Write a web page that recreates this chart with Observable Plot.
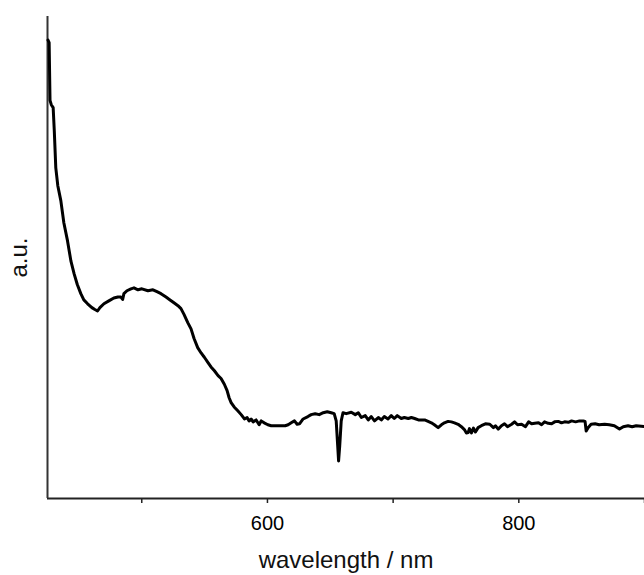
<!DOCTYPE html>
<html>
<head>
<meta charset="utf-8">
<script src="https://cdn.jsdelivr.net/npm/d3@7"></script>
<script src="https://cdn.jsdelivr.net/npm/@observablehq/plot@0.6"></script>
<style>
  html, body { margin: 0; padding: 0; background: #fff; }
  #chart svg { display: block; }
</style>
</head>
<body>
<div id="chart"></div>
<script>
const wavelength = [425.4,426.3,427.0,428.0,429.5,430.4,431.6,433.2,435.6,438.0,440.9,443.6,446.2,448.7,451.5,453.9,456.9,460.3,462.7,464.8,466.7,469.9,473.8,477.8,481.0,483.4,484.8,485.8,488.2,491.4,493.8,497.0,500.1,504.9,508.9,512.1,515.3,519.3,522.5,525.6,528.8,531.2,533.6,536.6,539.2,541.6,544.5,547.2,549.8,552.7,555.1,557.8,560.7,563.1,565.7,567.9,569.5,571.1,573.5,576.4,579.1,581.7,583.8,585.4,587.0,588.6,591.0,593.4,595.0,597.4,600.3,603.0,606.9,610.9,614.1,616.5,618.9,621.5,623.6,625.5,628.4,632.2,634.8,638.0,641.2,644.4,647.6,650.7,653.1,654.7,655.9,656.6,657.5,658.7,660.1,662.7,666.7,669.9,672.3,674.7,677.8,680.2,682.6,685.2,688.2,690.6,693.0,695.9,698.5,700.9,703.3,706.5,708.9,712.1,714.5,717.1,720.1,722.5,725.1,727.8,730.4,732.8,735.8,738.4,740.8,743.7,746.4,748.8,751.7,754.3,756.7,758.3,759.7,760.7,762.3,763.9,765.5,767.6,770.2,773.4,776.9,779.8,781.4,783.6,786.2,788.6,791.0,794.3,796.6,799.0,802.2,805.3,807.8,810.2,812.7,815.7,818.1,820.5,823.4,826.1,828.5,831.4,834.0,836.4,839.4,842.0,845.2,848.3,851.3,852.7,853.6,855.1,857.5,860.7,863.9,868.3,872.0,876.0,880.1,883.1,886.9,890.2,893.4,897.4,900.0];
const absorbance = [95.1,94.6,82.6,81.7,81.1,76.3,68.6,64.9,61.8,57.2,53.5,49.3,46.6,44.4,42.5,41.2,40.4,39.6,39.2,38.9,39.6,40.4,41.0,41.6,41.8,41.8,41.3,42.5,43.1,43.5,43.7,43.3,43.5,43.1,43.3,42.9,42.5,41.8,41.2,40.6,40.0,39.4,38.2,36.5,35.2,33.2,31.3,30.2,29.3,28.2,27.3,26.5,25.5,24.9,23.7,22.4,20.9,19.9,19.0,18.2,17.4,16.5,16.8,16.1,16.5,15.9,16.3,15.3,16.1,15.7,15.3,15.1,15.1,15.1,15.1,15.3,15.7,16.1,15.4,15.5,16.5,17.0,17.4,17.6,17.4,17.8,18.0,17.8,17.6,16.1,10.9,7.8,10.9,16.1,17.8,17.6,17.9,17.4,17.8,16.8,17.2,16.3,17.0,16.1,16.8,16.3,17.0,16.5,17.2,16.6,17.2,16.6,16.8,16.6,16.8,16.6,16.3,16.3,16.3,16.0,15.7,15.3,14.7,15.3,15.7,16.0,15.9,15.7,15.4,14.9,14.3,13.6,13.7,14.5,13.6,14.6,13.8,14.7,15.1,15.5,15.4,14.7,15.1,14.4,15.1,15.5,14.9,15.4,15.9,15.3,15.4,14.9,15.9,15.5,15.6,15.7,15.3,15.9,15.6,15.5,15.9,16.0,15.7,15.9,15.8,16.1,15.9,16.1,16.1,16.0,14.0,14.7,15.4,15.5,15.3,15.4,15.3,15.1,14.4,14.9,15.1,14.9,15.1,15.0,14.9];
const xTicks = [500, 600, 700, 800, 900];
const xTickLabels = ["", "600", "", "800", ""];
const xLabel = "wavelength / nm";
const yLabel = "a.u.";

const data = wavelength.map((w, i) => ({w, a: absorbance[i]}));
const font = "'Liberation Sans', Arial, sans-serif";

const chart = Plot.plot({
  width: 644,
  height: 575,
  marginLeft: 47,
  marginRight: 0,
  marginTop: 16,
  marginBottom: 77,
  style: {fontFamily: font, background: "#fff", color: "#000"},
  x: {domain: [425, 900]},
  y: {domain: [0, 100]},
  marks: [
    Plot.axisX({
      ticks: xTicks,
      tickFormat: (d) => xTickLabels[xTicks.indexOf(d)],
      tickSize: 5,
      tickPadding: 12,
      fontSize: 20,
      stroke: "#222",
      strokeWidth: 1.5,
      label: null
    }),
    Plot.axisY({ticks: [], label: null}),
    Plot.ruleY([0], {stroke: "#222", strokeWidth: 2}),
    Plot.ruleX([425], {stroke: "#333", strokeWidth: 2}),
    Plot.line(data, {x: "w", y: "a", stroke: "#000", strokeWidth: 3, strokeLinejoin: "round"}),
    Plot.text([xLabel], {frameAnchor: "bottom", lineAnchor: "bottom", dy: 69, fontSize: 24, fill: "#111", text: d => d}),
    Plot.text([yLabel], {frameAnchor: "left", textAnchor: "middle", rotate: -90, lineAnchor: "bottom", dx: -21, fontSize: 24, fill: "#111", text: d => d})
  ]
});
document.getElementById("chart").appendChild(chart);
</script>
</body>
</html>
